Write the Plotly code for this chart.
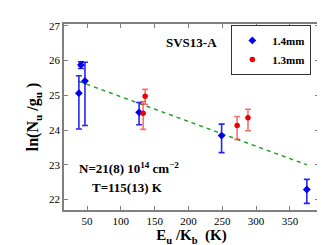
import plotly.graph_objects as go

# Data
x_14 = [38, 41, 47, 127, 249, 375]
y_14 = [25.06, 25.87, 25.41, 24.51, 23.84, 22.29]
err_up_14 = [0.50, 0.09, 0.54, 0.28, 0.33, 0.29]
err_dn_14 = [1.03, 0.10, 1.28, 0.36, 0.49, 0.40]

x_13 = [133, 136, 272, 288]
y_13 = [24.48, 24.97, 24.13, 24.35]
err_up_13 = [0.34, 0.20, 0.26, 0.25]
err_dn_13 = [0.46, 0.23, 0.40, 0.37]

fit_x = [38, 375]
fit_y = [25.40, 23.00]

x_ticks = [50, 100, 150, 200, 250, 300, 350]
y_ticks = [22, 23, 24, 25, 26, 27]

FONT = "Liberation Serif"

fig = go.Figure()
fig.add_trace(go.Scatter(
    x=fit_x, y=fit_y, mode="lines",
    line=dict(color="#22a022", width=1.5, dash="4px,4px"),
    showlegend=False, hoverinfo="skip"))
fig.add_trace(go.Scatter(
    x=x_14, y=y_14, mode="markers", name="<b>1.4mm</b>",
    marker=dict(symbol="diamond", size=6, color="#0000ee"),
    error_y=dict(type="data", symmetric=False, array=err_up_14,
                 arrayminus=err_dn_14, color="rgba(0,0,238,0.85)",
                 thickness=1.6, width=3)))
fig.add_trace(go.Scatter(
    x=x_13, y=y_13, mode="markers", name="<b>1.3mm</b>",
    marker=dict(symbol="circle", size=5.5, color="#ee0000"),
    error_y=dict(type="data", symmetric=False, array=err_up_13,
                 arrayminus=err_dn_13, color="rgba(255,30,30,0.65)",
                 thickness=1.6, width=3)))

axis_common = dict(
    showgrid=False, zeroline=False, showline=True, linecolor="#808080",
    linewidth=1.5, mirror="ticks", ticks="inside", ticklen=4,
    tickcolor="#808080", tickfont=dict(family=FONT, size=11, color="black"),
)

fig.update_layout(
    width=325, height=245,
    margin=dict(l=56, r=14, t=13, b=38),
    paper_bgcolor="white", plot_bgcolor="white",
    font=dict(family=FONT, color="black"),
    xaxis=dict(range=[16, 393], tickvals=x_ticks,
               title=dict(text="<b>E<sub>u</sub> /K<sub>b</sub>  (K)</b>",
                          font=dict(family=FONT, size=15), standoff=4),
               **axis_common),
    yaxis=dict(range=[21.7, 27.05], tickvals=y_ticks,
               title=dict(text="<b>ln(N<sub>u</sub> /g<sub>u</sub> )</b>",
                          font=dict(family=FONT, size=16), standoff=6),
               **axis_common),
    legend=dict(x=0.97, y=0.995, xanchor="right", yanchor="top",
                bordercolor="#333", borderwidth=1, bgcolor="white",
                font=dict(family=FONT, size=11), itemwidth=30,
                tracegroupgap=0),
    showlegend=True,
)
fig.update_xaxes(tickprefix="<b>", ticksuffix="</b>")
fig.update_yaxes(tickprefix="<b>", ticksuffix="</b>")

fig.add_annotation(x=0.5, y=0.95, xref="paper", yref="paper",
                   text="<b>SVS13-A</b>", showarrow=False,
                   font=dict(family=FONT, size=13))
fig.add_annotation(x=0.05, y=0.17, xref="paper", yref="paper",
                   xanchor="left",
                   text="<b>N=21(8) 10<sup>14</sup> cm<sup>−2</sup></b>",
                   showarrow=False, font=dict(family=FONT, size=13))
fig.add_annotation(x=0.1, y=0.07, xref="paper", yref="paper",
                   xanchor="left", text="<b>T=115(13) K</b>",
                   showarrow=False, font=dict(family=FONT, size=13))

fig.write_html("out.html")
